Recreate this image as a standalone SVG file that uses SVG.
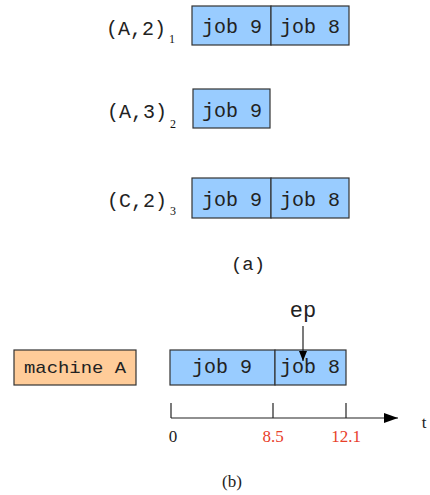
<svg xmlns="http://www.w3.org/2000/svg" width="430" height="495" viewBox="0 0 430 495">
<style>
.job{fill:#99CCFF;stroke:#333;stroke-width:1.2}
.mach{fill:#FFCC99;stroke:#333;stroke-width:1.2}
.mono{font-family:"Liberation Mono","DejaVu Sans Mono",monospace;fill:#222}
.jt{font-size:20px;text-anchor:middle}
.lbl{font-size:20px}
.sub{font-family:"Liberation Serif",serif;font-size:12px;fill:#111}
.serif{font-family:"Liberation Serif","DejaVu Serif",serif;font-size:17px;fill:#222;text-anchor:middle}
.red{fill:#E8402A}
.ln{stroke:#222;stroke-width:1.2;fill:none}
</style>
<defs>
<marker id="ah" markerWidth="10" markerHeight="8" refX="10" refY="4" orient="auto" markerUnits="userSpaceOnUse">
<path d="M0,0 L10,4 L0,8 Z" fill="#000"/>
</marker>
<marker id="ah2" markerWidth="14" markerHeight="10" refX="14" refY="5" orient="auto" markerUnits="userSpaceOnUse">
<path d="M0,0 L14,5 L0,10 Z" fill="#000"/>
</marker>
</defs>
<g id="row1">
<text class="mono lbl" x="106" y="35">(A,2)<tspan class="sub" dx="3" dy="8">1</tspan></text>
<rect class="job" x="192" y="6" width="79" height="39"/>
<rect class="job" x="271" y="6" width="78" height="39"/>
<text class="mono jt" x="232" y="33">job 9</text>
<text class="mono jt" x="310" y="33">job 8</text>
</g>
<g id="row2">
<text class="mono lbl" x="107" y="118">(A,3)<tspan class="sub" dx="3" dy="10">2</tspan></text>
<rect class="job" x="193" y="89" width="77" height="39"/>
<text class="mono jt" x="232" y="117">job 9</text>
</g>
<g id="row3">
<text class="mono lbl" x="107" y="207">(C,2)<tspan class="sub" dx="3" dy="8">3</tspan></text>
<rect class="job" x="192" y="178" width="79" height="40"/>
<rect class="job" x="271" y="178" width="78" height="40"/>
<text class="mono jt" x="232" y="206">job 9</text>
<text class="mono jt" x="310" y="206">job 8</text>
</g>
<text class="mono" x="248" y="270" font-size="19" text-anchor="middle">(a)</text>
<g id="machineA">
<rect class="mach" x="14" y="350" width="122" height="35"/>
<text class="mono" x="75" y="373" font-size="17" text-anchor="middle" textLength="102" lengthAdjust="spacingAndGlyphs">machine A</text>
</g>
<g id="schedule">
<rect class="job" x="170" y="350" width="105" height="35"/>
<rect class="job" x="275" y="350" width="71" height="35"/>
<text class="mono jt" x="222" y="373">job 9</text>
<text class="mono jt" x="310" y="373">job 8</text>
</g>
<g id="ep">
<text class="mono" x="303" y="317" font-size="22" text-anchor="middle">ep</text>
</g>
<g id="connectors">
<line class="ln" x1="303" y1="326" x2="303" y2="361" marker-end="url(#ah)"/>
<line class="ln" x1="171" y1="418" x2="398" y2="418" marker-end="url(#ah2)"/>
<line class="ln" x1="171" y1="403" x2="171" y2="418"/>
<line class="ln" x1="273" y1="403" x2="273" y2="418"/>
<line class="ln" x1="346" y1="403" x2="346" y2="418"/>
</g>
<text class="serif" x="173" y="442">0</text>
<text class="serif red" x="273" y="442">8.5</text>
<text class="serif red" x="346" y="442">12.1</text>
<text class="serif" x="424" y="428" font-size="20">t</text>
<text class="serif" x="232" y="487" font-size="18">(b)</text>
</svg>
